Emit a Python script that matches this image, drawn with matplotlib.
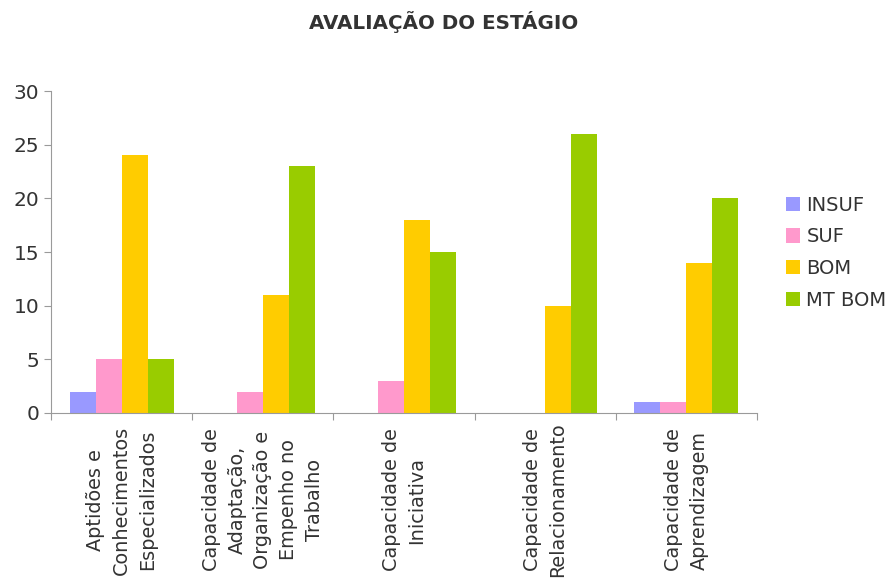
import matplotlib.pyplot as plt
import matplotlib.transforms as mtransforms
import numpy as np

categories = ["Aptidões e\nConhecimentos\nEspecializados",
              "Capacidade de\nAdaptação,\nOrganização e\nEmpenho no\nTrabalho",
              "Capacidade de\nIniciativa",
              "Capacidade de\nRelacionamento",
              "Capacidade de\nAprendizagem"]
series_names = ["INSUF", "SUF", "BOM", "MT BOM"]
insuf = [2, 0, 0, 0, 1]
suf = [5, 2, 3, 0, 1]
bom = [24, 11, 18, 10, 14]
mt_bom = [5, 23, 15, 26, 20]
colors = ["#9999FF", "#FF99CC", "#FFCC00", "#99CC00"]

txt = "#333333"
grey = "#9a9a9a"

fig = plt.figure(figsize=(8.87, 5.78), dpi=100)
ax = fig.add_axes([0.0575, 0.2855, 0.796, 0.557])

x = np.arange(len(categories))
w = 0.184
for i, (vals, name) in enumerate(zip([insuf, suf, bom, mt_bom], series_names)):
    ax.bar(x + (i - 1.5) * w, vals, width=w, color=colors[i], label=name)

ax.set_xlim(-0.5, len(categories) - 0.5)
ax.set_ylim(0, 30)
ax.set_yticks(range(0, 31, 5))
ax.tick_params(axis='y', labelsize=14.5, colors=grey, labelcolor=txt, length=5, direction='out')
ax.set_xticks(np.arange(len(categories) + 1) - 0.5)
ax.set_xticklabels([])
ax.tick_params(axis='x', colors=grey, length=5, direction='out')
for s in ['top', 'right']:
    ax.spines[s].set_visible(False)
for s in ['left', 'bottom']:
    ax.spines[s].set_color(grey)

# category labels, rotated and centred below the axis
trans = mtransforms.blended_transform_factory(ax.transData, fig.transFigure)
for xi, lab in zip(x, categories):
    ax.text(xi, 1 - 500 / 578, lab, transform=trans, rotation=90,
            ha='center', va='center', multialignment='center',
            fontsize=13.9, color=txt, linespacing=1.45)

fig.text(0.5, 1 - 22 / 578, "AVALIAÇÃO DO ESTÁGIO", ha='center', va='center',
         fontsize=14.3, fontweight='bold', color=txt)

fig.legend(loc='center left', bbox_to_anchor=(0.886, 0.563), frameon=False,
           fontsize=14, handlelength=0.75, handleheight=0.75, handletextpad=0.3,
           labelspacing=0.65, labelcolor=txt, borderaxespad=0, borderpad=0)

fig.savefig("out.png", dpi=100)
